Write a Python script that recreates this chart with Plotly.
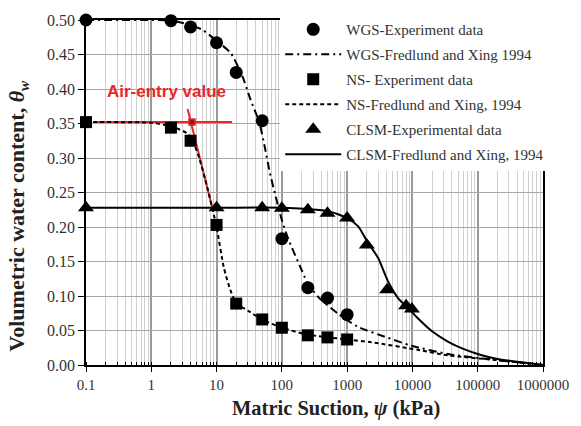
import plotly.graph_objects as go

# ---- data ----
wgs_x = [0.1, 2, 4, 10, 20, 50, 100, 250, 500, 1000]
wgs_y = [0.500, 0.499, 0.490, 0.467, 0.424, 0.354, 0.183, 0.112, 0.097, 0.073]
ns_x = [0.1, 2, 4, 10, 20, 50, 100, 250, 500, 1000]
ns_y = [0.352, 0.344, 0.325, 0.203, 0.089, 0.066, 0.054, 0.043, 0.040, 0.037]
clsm_x = [0.1, 10, 50, 100, 250, 500, 1000, 2000, 4100, 8000, 9800]
clsm_y = [0.228, 0.228, 0.228, 0.227, 0.225, 0.220, 0.213, 0.174, 0.109, 0.086, 0.081]

wgs_fit_x = [0.1, 1, 2, 4, 6, 10, 16.5, 25, 33, 45, 55, 65, 80, 100, 125, 190, 250, 365, 735, 1480, 3780, 9560, 35000, 200000, 1000000]
wgs_fit_y = [0.500, 0.500, 0.499, 0.493, 0.486, 0.470, 0.452, 0.418, 0.385, 0.352, 0.315, 0.280, 0.245, 0.210, 0.183, 0.143, 0.118, 0.098, 0.074, 0.055, 0.041, 0.028, 0.016, 0.007, 0.0]
ns_fit_x = [0.1, 1, 2, 3.6, 5, 7, 10, 13, 16.5, 20, 31, 50, 100, 250, 1000, 2350, 12000, 35000, 200000, 1000000]
ns_fit_y = [0.352, 0.351, 0.346, 0.335, 0.310, 0.262, 0.200, 0.140, 0.107, 0.090, 0.078, 0.066, 0.054, 0.044, 0.037, 0.033, 0.022, 0.014, 0.007, 0.0]
clsm_fit_x = [0.1, 10, 100, 250, 515, 1000, 1480, 2000, 2985, 4240, 6020, 9560, 12000, 19300, 34800, 61500, 112000, 200000, 630000, 1000000]
clsm_fit_y = [0.228, 0.228, 0.228, 0.226, 0.223, 0.213, 0.201, 0.180, 0.155, 0.121, 0.097, 0.078, 0.068, 0.050, 0.034, 0.023, 0.0145, 0.0088, 0.0025, 0.0]

aev_h_x = [0.128, 17.3]
aev_h_y = [0.352, 0.352]
aev_s_x = [3.6, 8.6]
aev_s_y = [0.371, 0.228]
aev_pt_x = [4.2]
aev_pt_y = [0.352]

x_tickvals = [0.1, 1, 10, 100, 1000, 10000, 100000, 1000000]
x_ticktext = ["0.1", "1", "10", "100", "1000", "10000", "100000", "1000000"]
y_tickvals = [0.0, 0.05, 0.10, 0.15, 0.20, 0.25, 0.30, 0.35, 0.40, 0.45, 0.50]
y_ticktext = ["0.00", "0.05", "0.10", "0.15", "0.20", "0.25", "0.30", "0.35", "0.40", "0.45", "0.50"]

x_title = "<b>Matric Suction, <i>ψ</i> (kPa)</b>"
y_title = "<b>Volumetric water content, <i>θ</i><sub><i>w</i></sub></b>"
aev_label = "<b>Air-entry value</b>"

RED = "#e8262b"
serif = "Liberation Serif"

fig = go.Figure()

# red air-entry construction (under the data)
fig.add_trace(go.Scatter(x=aev_h_x, y=aev_h_y, mode="lines", line=dict(color=RED, width=2), showlegend=False))
fig.add_trace(go.Scatter(x=aev_s_x, y=aev_s_y, mode="lines", line=dict(color=RED, width=2), showlegend=False))
fig.add_trace(go.Scatter(x=aev_pt_x, y=aev_pt_y, mode="markers",
                         marker=dict(symbol="square", size=6, color="#8b1a1a", line=dict(color=RED, width=1.5)),
                         showlegend=False))

fig.add_trace(go.Scatter(x=wgs_x, y=wgs_y, mode="markers", name="WGS-Experiment data", legendgroup="a",
                         marker=dict(symbol="circle", size=13, color="black"), cliponaxis=False))
fig.add_trace(go.Scatter(x=wgs_fit_x, y=wgs_fit_y, mode="lines", name="WGS-Fredlund and Xing 1994", legendgroup="b",
                         line=dict(color="black", width=2, dash="8px,4px,2px,4px", shape="spline", smoothing=0.6)))
fig.add_trace(go.Scatter(x=ns_x, y=ns_y, mode="markers", name="NS- Experiment data", legendgroup="c",
                         marker=dict(symbol="square", size=12, color="black"), cliponaxis=False))
fig.add_trace(go.Scatter(x=ns_fit_x, y=ns_fit_y, mode="lines", name="NS-Fredlund and Xing, 1994", legendgroup="d",
                         line=dict(color="black", width=2, dash="4px,3px", shape="spline", smoothing=0.6)))
fig.add_trace(go.Scatter(x=clsm_x, y=clsm_y, mode="markers", name="CLSM-Experimental data", legendgroup="e",
                         marker=dict(symbol="triangle-up", size=14, color="black"), cliponaxis=False))
fig.add_trace(go.Scatter(x=clsm_fit_x, y=clsm_fit_y, mode="lines", name="CLSM-Fredlund and Xing, 1994", legendgroup="f",
                         line=dict(color="black", width=2, shape="spline", smoothing=0.6)))

fig.add_annotation(x=0.24, y=0.397, xref="x", yref="y", text=aev_label, showarrow=False,
                   font=dict(family="Liberation Sans", size=17, color=RED))

# axis titles (placed as in the reference)
fig.add_annotation(x=0.546, y=-0.126, xref="paper", yref="paper", text=x_title, showarrow=False,
                   xanchor="center", yanchor="middle",
                   font=dict(family=serif, size=20.5, color="#222222"))
fig.add_annotation(x=-0.148, y=0.434, xref="paper", yref="paper", text=y_title, showarrow=False,
                   textangle=-90, xanchor="center", yanchor="middle",
                   font=dict(family=serif, size=22, color="#222222"))

fig.update_layout(
    width=581, height=426,
    margin=dict(l=86, r=35, t=15, b=61),
    paper_bgcolor="white", plot_bgcolor="white",
    font=dict(family=serif, color="#333333"),
    legend=dict(x=0.425, y=1.02, xanchor="left", yanchor="top", bgcolor="white", borderwidth=0,
                font=dict(family=serif, size=15, color="#333333"), traceorder="grouped",
                tracegroupgap=2.5, itemwidth=56),
)
fig.update_xaxes(type="log", range=[-1, 6], tickvals=x_tickvals, ticktext=x_ticktext,
                 tickfont=dict(family=serif, size=15, color="#333333"),
                 showline=True, linecolor="black", linewidth=1.5, mirror=True,
                 ticks="outside", ticklen=5, tickcolor="black",
                 showgrid=True, gridcolor="#9a9a9a", gridwidth=1.5,
                 minor=dict(dtick="D1", showgrid=True, gridcolor="#cfcfcf", gridwidth=1,
                            ticks="inside", ticklen=3, tickcolor="black"),
                 zeroline=False)
fig.update_yaxes(range=[0, 0.5], tickvals=y_tickvals, ticktext=y_ticktext,
                 tickfont=dict(family=serif, size=16, color="#333333"),
                 showline=True, linecolor="black", linewidth=1.5, mirror=True,
                 ticks="outside", ticklen=6, tickcolor="black",
                 showgrid=True, gridcolor="#a8a8a8", gridwidth=1.2, zeroline=False)

fig.write_html("out.html")
